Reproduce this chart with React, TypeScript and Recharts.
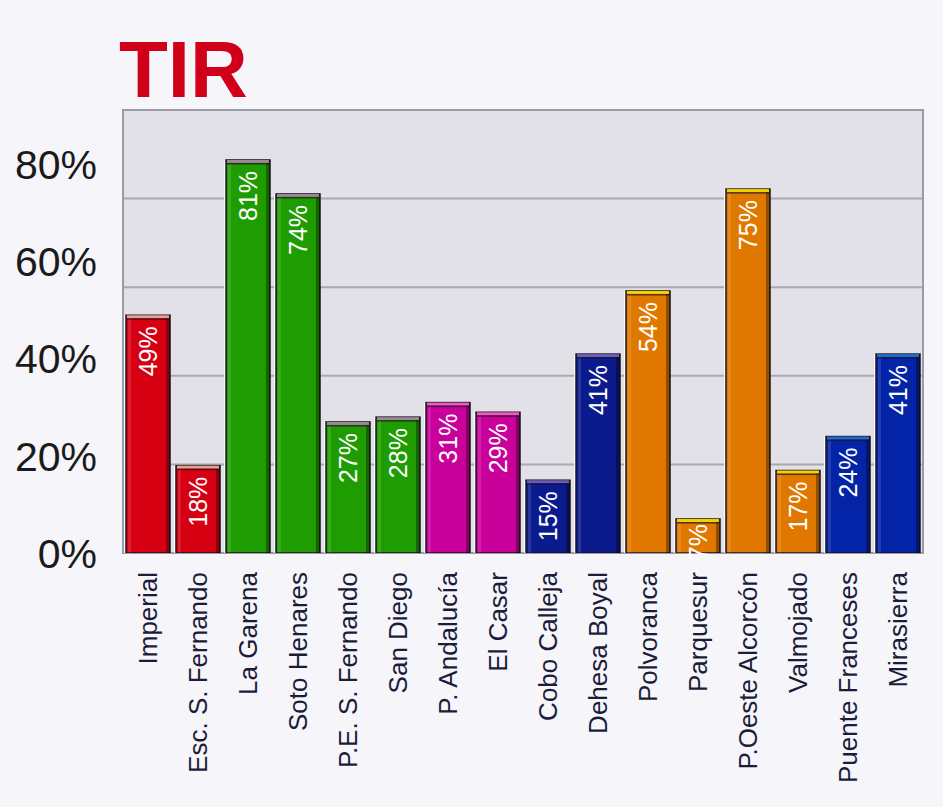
import React from "react";
import { Bar, BarChart, CartesianGrid, LabelList, ReferenceArea, XAxis, YAxis } from "recharts";

const categories = [
  "Imperial",
  "Esc. S. Fernando",
  "La Garena",
  "Soto Henares",
  "P.E. S. Fernando",
  "San Diego",
  "P. Andalucía",
  "El Casar",
  "Cobo Calleja",
  "Dehesa Boyal",
  "Polvoranca",
  "Parquesur",
  "P.Oeste Alcorcón",
  "Valmojado",
  "Puente Franceses",
  "Mirasierra",
];
const values = [49, 18, 81, 74, 27, 28, 31, 29, 15, 41, 54, 7, 75, 17, 24, 41];
const groups = [
  "red", "red", "green", "green", "green", "green", "magenta", "magenta",
  "navy", "navy", "orange", "orange", "orange", "orange", "blue", "blue",
];
const yTicks = [0, 20, 40, 60, 80];
// back wall of the 3D chart runs to 100%, its grid sits a bit lower than the front ticks
const wallTicks = [20, 40, 60, 80];

const palette: Record<string, { fill: string; cap: string }> = {
  red: { fill: "#d60012", cap: "#e8a08c" },
  green: { fill: "#1f9c02", cap: "#9a8890" },
  magenta: { fill: "#c9009a", cap: "#e85cc4" },
  navy: { fill: "#0b1a8c", cap: "#6a5cb8" },
  orange: { fill: "#e07800", cap: "#f0d200" },
  blue: { fill: "#0424a8", cap: "#1e6cc8" },
};

const data = categories.map((name, i) => ({ name, value: values[i], group: groups[i] }));

const FONT = '"Liberation Sans", Arial, sans-serif';

function Bar3D(props: any) {
  const { x, y, width, height, payload } = props;
  if (height == null || height <= 0) return null;
  const c = palette[payload.group];
  return (
    <g>
      <rect x={x - 2} y={y} width={2} height={height} fill="#ffffff" opacity={0.85} />
      <rect x={x} y={y} width={width} height={height} fill={c.fill} stroke="#1a1420" strokeWidth={1.5} />
      <rect x={x + width - 4} y={y} width={4} height={height} fill="#000000" opacity={0.35} />
      <rect x={x + 2} y={y + 1.5} width={3} height={height - 2} fill="#ffffff" opacity={0.12} />
      <rect x={x + 1} y={y} width={width - 2} height={3} fill={c.cap} />
      <rect x={x + 1} y={y + 3} width={width - 2} height={1.5} fill="#1a1420" opacity={0.7} />
    </g>
  );
}

function ValueLabel(props: any) {
  const { x, y, width, height, value } = props;
  const cx = x + width / 2;
  const ty = y + (height < 50 ? 5 : 11);
  return (
    <text
      x={cx}
      y={ty}
      transform={`rotate(-90, ${cx}, ${ty})`}
      textAnchor="end"
      dominantBaseline="central"
      fill="#ffffff"
      fontSize={25}
      fontFamily={FONT}
    >
      {value}%
    </text>
  );
}

function CategoryTick(props: any) {
  const { x, y, payload } = props;
  return (
    <text
      x={x}
      y={y}
      transform={`rotate(-90, ${x}, ${y})`}
      textAnchor="end"
      dominantBaseline="central"
      fill="#1c1c3a"
      fontSize={26}
      fontFamily={FONT}
    >
      {payload.value}
    </text>
  );
}

function App() {
  return (
    <div
      style={{
        position: "absolute",
        left: 0,
        top: 0,
        width: 943,
        height: 807,
        background: "#f5f5fa",
        fontFamily: FONT,
      }}
    >
      <div
        style={{
          position: "absolute",
          left: 119,
          top: 30,
          fontSize: 80,
          lineHeight: 1,
          fontWeight: "bold",
          color: "#d0001a",
        }}
      >
        TIR
      </div>
      <BarChart
        width={943}
        height={807}
        data={data}
        margin={{ top: 110, right: 20, bottom: 0, left: 0 }}
        barCategoryGap={3}
      >
        <CartesianGrid
          vertical={false}
          stroke="#aaa8b0"
          strokeWidth={2}
          fill="#e1e1e7"
          horizontalCoordinatesGenerator={({ offset }: any) =>
            wallTicks.map((v) => offset.top + offset.height * (1 - v / 100))
          }
        />
        <ReferenceArea y1={0} y2={91.3} fill="none" stroke="#9c9aa4" strokeWidth={2} />
        <XAxis
          dataKey="name"
          interval={0}
          axisLine={false}
          tickLine={false}
          tickSize={0}
          tickMargin={19}
          height={254}
          tick={<CategoryTick />}
        />
        <YAxis
          domain={[0, 91.3]}
          ticks={yTicks}
          width={123}
          allowDataOverflow
          axisLine={false}
          tickLine={false}
          tickSize={0}
          tickMargin={26}
          tickFormatter={(v: number) => `${v}%`}
          tick={{ fill: "#1a1a1a", fontSize: 41, fontFamily: FONT }}
        />
        <Bar dataKey="value" shape={<Bar3D />} isAnimationActive={false}>
          <LabelList dataKey="value" content={<ValueLabel />} />
        </Bar>
      </BarChart>
    </div>
  );
}

export default App;
